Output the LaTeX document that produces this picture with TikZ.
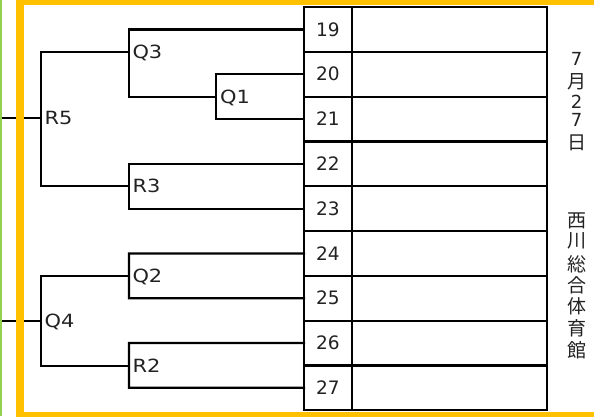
\documentclass[tikz,border=0pt]{standalone}
\usepackage{fontspec}
\setmainfont{DejaVu Sans}
\newfontfamily\lblfont[FakeStretch=1.15]{DejaVu Sans}
\newfontfamily\cjk{Noto Sans CJK JP}
\definecolor{frameyellow}{HTML}{FFC000}
\definecolor{edgegreen}{HTML}{92D050}
\definecolor{txt}{HTML}{222222}
\begin{document}
\begin{tikzpicture}[x=1pt,y=-1pt,
  wire/.style={line width=2.2pt,black,line cap=rect},
  numcell/.style={draw,line width=2.2pt,minimum width=47.7pt,minimum height=44.8pt,inner sep=0pt,outer sep=0pt,
     font=\fontsize{18.5}{18.5}\selectfont,text=txt},
  blankcell/.style={draw,line width=2.2pt,minimum width=195pt,minimum height=44.8pt,inner sep=0pt,outer sep=0pt},
  lbl/.style={anchor=base west,inner sep=0pt,font=\lblfont\fontsize{18.2}{18.2}\selectfont,text=txt},
  vch/.style={inner sep=0pt,font=\cjk\fontsize{19}{19}\selectfont,text=txt},
  vdg/.style={inner sep=0pt,font=\fontsize{18}{18}\selectfont,text=txt}]
\useasboundingbox (0,0) rectangle (594,416);
\clip (0,0) rectangle (594,416);
\fill[white] (0,0) rectangle (594,416);

% table
\foreach \n [count=\i from 0] in {19,20,21,22,23,24,25,26,27}{
  \node[numcell] (n\n) at (327.85,{29.4+44.8*\i}) {\n};
  \node[blankcell,anchor=west] (b\n) at (n\n.east) {};
}

% junction coordinates
\coordinate (inA) at (0,118);
\coordinate (inB) at (0,321);
\coordinate (r5t) at (41,52);   \coordinate (r5b) at (41,186);   \coordinate (r5m) at (41,118);
\coordinate (q3t) at (129,29.4);\coordinate (q3b) at (129,96.6); \coordinate (q3m) at (129,52);
\coordinate (q1t) at (216,74.2);\coordinate (q1b) at (216,119);  \coordinate (q1m) at (216,96.6);
\coordinate (r3t) at (129,163.8);\coordinate (r3b) at (129,208.6);\coordinate (r3m) at (129,186);
\coordinate (q4t) at (41,276);  \coordinate (q4b) at (41,366);   \coordinate (q4m) at (41,321);
\coordinate (q2t) at (129,253.4);\coordinate (q2b) at (129,298.2);\coordinate (q2m) at (129,276);
\coordinate (r2t) at (129,343);  \coordinate (r2b) at (129,387.8);\coordinate (r2m) at (129,366);

% brackets
\draw[wire] (inA) -- (r5m);
\draw[wire] (q3m) -- (r5t) -- (r5b) -- (r3m);
\draw[wire] (n19.west) -- (q3t) -- (q3b) -- (q1m);
\draw[wire] (n20.west) -- (q1t) -- (q1b) -- (n21.west);
\draw[wire] (n22.west) -- (r3t) -- (r3b) -- (n23.west);
\draw[wire] (inB) -- (q4m);
\draw[wire] (q2m) -- (q4t) -- (q4b) -- (r2m);
\draw[wire] (n24.west) -- (q2t) -- (q2b) -- (n25.west);
\draw[wire] (n26.west) -- (r2t) -- (r2b) -- (n27.west);

% labels
\node[lbl] (lR5) at (44.5,124.6) {R5};
\node[lbl] (lQ3) at (132.3,58.8) {Q3};
\node[lbl] (lQ1) at (220,103.4) {Q1};
\node[lbl] (lR3) at (132.3,192.6) {R3};
\node[lbl] (lQ4) at (44.5,327.6) {Q4};
\node[lbl] (lQ2) at (132.3,282.6) {Q2};
\node[lbl] (lR2) at (132.3,372.6) {R2};

% vertical text
\node[vdg] (d1) at (576.7,59.3) {7};
\node[vch] (d2) at (576.7,81.3) {月};
\node[vdg] (d3) at (576.7,101.7) {2};
\node[vdg] (d4) at (576.7,119.7) {7};
\node[vch] (d5) at (576.7,143) {日};
\node[vch] (p1) at (576.7,220.5) {西};
\node[vch] (p2) at (576.7,241) {川};
\node[vch] (p3) at (576.7,264) {総};
\node[vch] (p4) at (576.7,285) {合};
\node[vch] (p5) at (576.7,306.7) {体};
\node[vch] (p6) at (576.7,328.3) {育};
\node[vch] (p7) at (576.7,350.5) {館};

% frames
\draw[edgegreen,line width=1.8pt] (0.9,0) -- (0.9,416);
\draw[frameyellow,line width=7.6pt] (610,0.8) -- (19.8,0.8) -- (19.8,415.7) -- (610,415.7);
\end{tikzpicture}
\end{document}
